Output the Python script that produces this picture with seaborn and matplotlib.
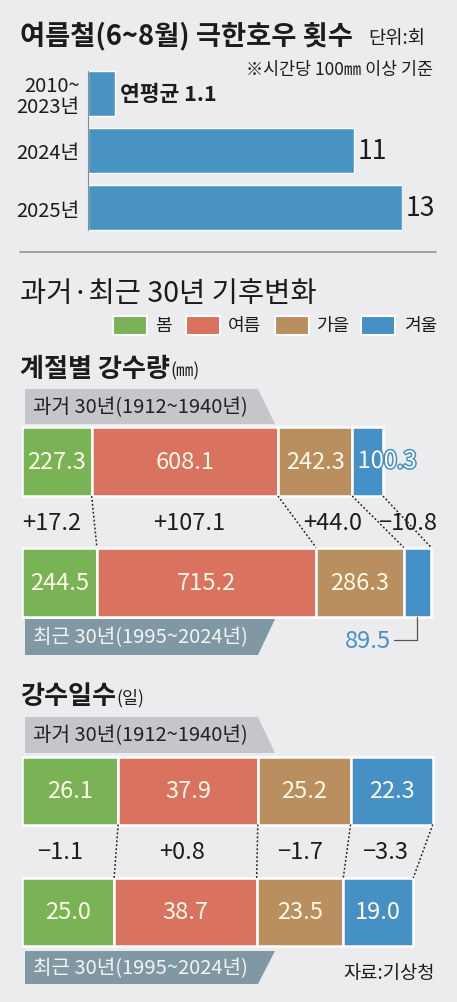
import matplotlib
matplotlib.use("Agg")
import matplotlib.pyplot as plt
import matplotlib.patheffects as pe
from matplotlib.patches import Polygon, Rectangle
import numpy as np
import pandas as pd
import seaborn as sns

# ---- data ----
top_periods = ["2010~\n2023년", "2024년", "2025년"]
top_counts = [1.1, 11, 13]

seasons = ["봄", "여름", "가을", "겨울"]
season_colors = ["#7ab356", "#d9725f", "#b98f5f", "#4591c5"]

rain_past = [227.3, 608.1, 242.3, 100.3]
rain_recent = [244.5, 715.2, 286.3, 89.5]
days_past = [26.1, 37.9, 25.2, 22.3]
days_recent = [25.0, 38.7, 23.5, 19.0]

past_label = "과거 30년(1912~1940년)"
recent_label = "최근 30년(1995~2024년)"

# ---- layout / style ----
W, H = 457, 1003
BG = "#ececee"
INK = "#1c1c1c"
CREAM = "#fffbe8"
BAR_BLUE = "#4a94c4"
KR = ["Noto Sans CJK KR", "DejaVu Sans"]

sns.set_theme(style="white")
plt.rcParams["font.family"] = KR
plt.rcParams["axes.unicode_minus"] = True

fig = plt.figure(figsize=(W / 100, H / 100), dpi=100, facecolor=BG)


def px_axes(x0, y0, x1, y1):
    # axes placed by pixel box (y measured from the top)
    return fig.add_axes([x0 / W, 1 - y1 / H, (x1 - x0) / W, (y1 - y0) / H])


# overlay for headings, tags and legend
bg = px_axes(0, 0, W, H)
bg.set_xlim(0, W)
bg.set_ylim(H, 0)
bg.axis("off")
bg.set_zorder(0)


def put(x, y, s, size, ha="left", weight="normal", color=INK, **kw):
    return bg.text(x, y, s, fontsize=size, ha=ha, va="center", fontweight=weight,
                   color=color, **kw)


def heading(x, y, main, unit):
    t = put(x, y, main, 18.8, weight="bold")
    bg.annotate(unit, xy=(1, 0.42), xycoords=t, ha="left", va="center",
                fontsize=12.5, color=INK)


def tag(top, bottom, text, recent):
    if recent:
        pts = [(25, top), (275, top), (258, bottom), (25, bottom)]
        fc, tc = "#7f98a3", "#f4f4f4"
    else:
        pts = [(25, top), (258, top), (275, bottom), (25, bottom)]
        fc, tc = "#c5c6ca", "#222222"
    bg.add_patch(Polygon(pts, closed=True, facecolor=fc, edgecolor="none"))
    put(33, (top + bottom) / 2, text, 14.5, color=tc)


# ---- section 1: extreme rainfall counts ----
put(20, 37, "여름철(6~8월) 극한호우 횟수", 19.7, weight="bold")
put(368, 38, "단위:회", 13.5)
put(433, 70, "※시간당 100㎜ 이상 기준", 12.5, ha="right")

df_top = pd.DataFrame({"period": top_periods, "count": top_counts})
ax1 = px_axes(88, 65.75, 402, 237.25)
sns.barplot(data=df_top, x="count", y="period", orient="h", color=BAR_BLUE,
            saturation=1, width=0.78, errorbar=None, ax=ax1)
ax1.set_xlim(0, max(top_counts))
ax1.set_ylim(2.5, -0.5)
ax1.set_facecolor("none")
ax1.set(xlabel="", ylabel="")
ax1.set_xticks([])
for s in ["top", "right", "bottom"]:
    ax1.spines[s].set_visible(False)
ax1.spines["left"].set_bounds(-0.39, 2.39)
ax1.spines["left"].set_color("#8c8c8c")
ax1.spines["left"].set_linewidth(0.8)
ax1.tick_params(axis="y", length=0, pad=6, labelsize=14.5, labelcolor=INK)
for lab in ax1.get_yticklabels():
    lab.set_linespacing(1.0)

for i, v in enumerate(top_counts):
    if i == 0:
        ax1.annotate(f"연평균 {v}", (v, i), xytext=(4, 0), textcoords="offset points",
                     va="center", ha="left", fontsize=15.5, fontweight="bold", color=INK)
    else:
        ax1.annotate(f"{v:g}", (v, i), xytext=(2.5, 0), textcoords="offset points",
                     va="center", ha="left", fontsize=19, color=INK)

bg.plot([20, 436], [253, 253], color="#9c9c9c", lw=1.3)

# ---- section 2 headings + legend ----
put(20, 294, "과거·최근 30년 기후변화", 20.5)
legend_box_x = [113, 186, 275, 361]
legend_text_x = [155, 228, 316, 404]
for bx, tx, name, c in zip(legend_box_x, legend_text_x, seasons, season_colors):
    bg.add_patch(Rectangle((bx, 317), 34, 19, facecolor=c, edgecolor="white", lw=1.5))
    put(tx, 326, name, 13)

heading(20, 369, "계절별 강수량", "(㎜)")
heading(20, 696, "강수일수", "(일)")

tag(390, 425, past_label, False)
tag(620, 656, recent_label, True)
tag(718, 754, past_label, False)
tag(952, 985, recent_label, True)
put(435, 974, "자료:기상청", 13.5, ha="right")


def stack_axes(top, bottom, row0, gap, px_per_unit):
    ax = px_axes(22, top, W, bottom)
    ax.set_xlim(0, (W - 22) / px_per_unit)
    ax.set_ylim((bottom - row0) / gap, (top - row0) / gap)
    ax.axis("off")
    ax.set_zorder(1)
    return ax


def draw_stack(ax, past, recent, h, diff_x, diff_y, skip_label=()):
    for row, vals in enumerate([past, recent]):
        lefts = np.concatenate([[0], np.cumsum(vals)[:-1]])
        ax.barh([row] * len(vals), vals, left=lefts, height=h, color=season_colors,
                edgecolor="white", linewidth=1.8)
        for j, (l, v) in enumerate(zip(lefts, vals)):
            if (row, j) in skip_label:
                continue
            ax.text(l + v / 2, row, f"{v:.1f}", ha="center", va="center",
                    fontsize=17, color=CREAM)
    for xp, xr in zip(np.cumsum(past), np.cumsum(recent)):
        ax.plot([xp, xr], [h / 2, 1 - h / 2], ls=(0, (1.2, 1.4)), color="#222222", lw=1.1)
    for x, p, r in zip(diff_x, past, recent):
        d = f"{r - p:+.1f}".replace("-", "\u2212")
        put(x, diff_y, d, 17, ha="center")


# ---- rainfall amount ----
rain_h = 69 / 120.5
ax2 = stack_axes(380, 660, 462.5, 120.5, 0.3064)
draw_stack(ax2, rain_past, rain_recent, rain_h, [52, 189, 333, 408], 523,
           skip_label={(0, 3), (1, 3)})
blue_left = sum(rain_past[:3])
ax2.annotate(f"{rain_past[3]:.1f}", (blue_left + rain_past[3] / 2, 0), xytext=(14, 0),
             textcoords="offset points", ha="center", va="center", fontsize=17,
             color="white",
             path_effects=[pe.withStroke(linewidth=2.2, foreground=season_colors[3])])
blue_mid = sum(rain_recent[:3]) + rain_recent[3] / 2
ax2.annotate(f"{rain_recent[3]:.1f}", (blue_mid, 1 + rain_h / 2), xytext=(-36, -17),
             textcoords="offset points", ha="center", va="center", fontsize=17,
             color=season_colors[3],
             arrowprops=dict(arrowstyle="-", color="#555555", lw=0.9, shrinkA=0, shrinkB=0,
                             connectionstyle="angle,angleA=0,angleB=90,rad=0"))

# ---- rainy days ----
days_h = 68 / 121.5
ax3 = stack_axes(700, 975, 791.5, 121.5, 3.684)
draw_stack(ax3, days_past, days_recent, days_h, [60, 182, 300, 385], 853)

fig.savefig("out.png", dpi=100, facecolor=BG)
